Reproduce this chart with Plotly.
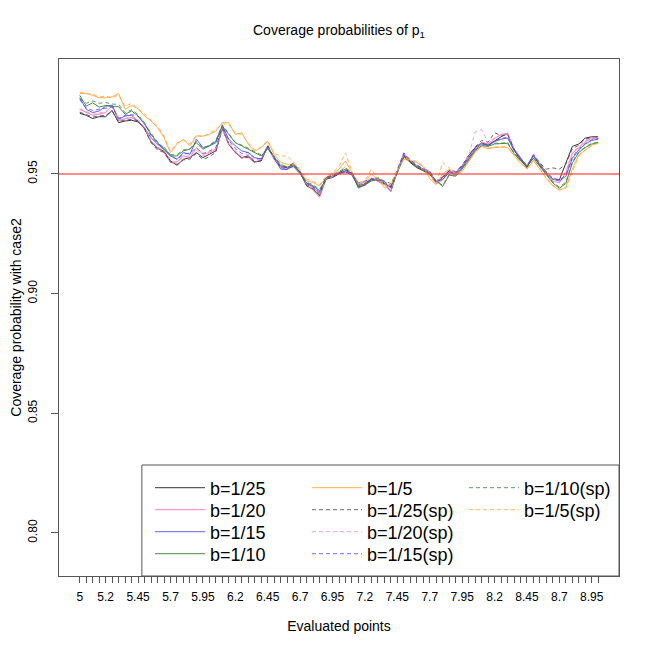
import plotly.graph_objects as go

# evaluated points 5.00, 5.05, ..., 9.00
x_points = [round(5 + 0.05 * k, 2) for k in range(81)]
x_labels = {0: "5", 4: "5.2", 9: "5.45", 14: "5.7", 19: "5.95", 24: "6.2", 29: "6.45",
            34: "6.7", 39: "6.95", 44: "7.2", 49: "7.45", 54: "7.7", 59: "7.95",
            64: "8.2", 69: "8.45", 74: "8.7", 79: "8.95"}
y_ticks = [0.80, 0.85, 0.90, 0.95]

b25 = [0.9753, 0.9745, 0.9731, 0.9739, 0.9739, 0.9765, 0.9714, 0.9721, 0.9724, 0.9717,
       0.9690, 0.9634, 0.9607, 0.9594, 0.9554, 0.9536, 0.9561, 0.9568, 0.9589, 0.9568,
       0.9582, 0.9596, 0.9693, 0.9623, 0.9589, 0.9568, 0.9575, 0.9550, 0.9554, 0.9617,
       0.9565, 0.9530, 0.9526, 0.9540, 0.9505, 0.9450, 0.9436, 0.9408, 0.9478, 0.9485,
       0.9500, 0.9513, 0.9500, 0.9450, 0.9457, 0.9478, 0.9471, 0.9457, 0.9446, 0.9506,
       0.9575, 0.9547, 0.9526, 0.9513, 0.9500, 0.9462, 0.9485, 0.9513, 0.9506, 0.9533,
       0.9575, 0.9610, 0.9630, 0.9620, 0.9638, 0.9655, 0.9668, 0.9600, 0.9560, 0.9526,
       0.9578, 0.9535, 0.9505, 0.9478, 0.9475, 0.9545, 0.9615, 0.9625, 0.9650, 0.9655,
       0.9655]
b20 = [0.9769, 0.9756, 0.9745, 0.9750, 0.9756, 0.9786, 0.9721, 0.9731, 0.9735, 0.9721,
       0.9686, 0.9637, 0.9610, 0.9589, 0.9547, 0.9550, 0.9575, 0.9568, 0.9610, 0.9582,
       0.9589, 0.9603, 0.9686, 0.9624, 0.9589, 0.9568, 0.9568, 0.9547, 0.9560, 0.9612,
       0.9560, 0.9528, 0.9522, 0.9538, 0.9508, 0.9455, 0.9432, 0.9402, 0.9480, 0.9488,
       0.9505, 0.9510, 0.9498, 0.9448, 0.9458, 0.9482, 0.9470, 0.9455, 0.9425, 0.9510,
       0.9580, 0.9552, 0.9530, 0.9515, 0.9505, 0.9458, 0.9475, 0.9510, 0.9505, 0.9530,
       0.9570, 0.9605, 0.9632, 0.9625, 0.9648, 0.9665, 0.9670, 0.9605, 0.9565, 0.9530,
       0.9580, 0.9538, 0.9500, 0.9470, 0.9462, 0.9505, 0.9585, 0.9610, 0.9635, 0.9648,
       0.9650]
b15 = [0.9818, 0.9770, 0.9756, 0.9763, 0.9783, 0.9787, 0.9728, 0.9742, 0.9745, 0.9721,
       0.9693, 0.9651, 0.9624, 0.9603, 0.9575, 0.9561, 0.9589, 0.9582, 0.9645, 0.9610,
       0.9617, 0.9630, 0.9700, 0.9645, 0.9617, 0.9596, 0.9589, 0.9568, 0.9562, 0.9610,
       0.9562, 0.9520, 0.9518, 0.9535, 0.9505, 0.9460, 0.9445, 0.9420, 0.9485, 0.9490,
       0.9500, 0.9508, 0.9495, 0.9445, 0.9452, 0.9475, 0.9478, 0.9462, 0.9428, 0.9512,
       0.9585, 0.9555, 0.9535, 0.9520, 0.9510, 0.9465, 0.9478, 0.9505, 0.9500, 0.9525,
       0.9565, 0.9600, 0.9625, 0.9618, 0.9635, 0.9645, 0.9650, 0.9598, 0.9562, 0.9532,
       0.9575, 0.9540, 0.9505, 0.9478, 0.9470, 0.9490, 0.9565, 0.9600, 0.9625, 0.9640,
       0.9645]
b10 = [0.9828, 0.9783, 0.9797, 0.9779, 0.9786, 0.9781, 0.9781, 0.9749, 0.9763, 0.9742,
       0.9707, 0.9665, 0.9630, 0.9603, 0.9575, 0.9575, 0.9596, 0.9603, 0.9630, 0.9603,
       0.9617, 0.9637, 0.9700, 0.9665, 0.9630, 0.9617, 0.9603, 0.9589, 0.9575, 0.9605,
       0.9570, 0.9535, 0.9525, 0.9530, 0.9500, 0.9462, 0.9450, 0.9430, 0.9478, 0.9492,
       0.9505, 0.9520, 0.9502, 0.9440, 0.9455, 0.9470, 0.9480, 0.9468, 0.9440, 0.9505,
       0.9570, 0.9550, 0.9530, 0.9515, 0.9498, 0.9470, 0.9448, 0.9495, 0.9490, 0.9520,
       0.9560, 0.9595, 0.9618, 0.9615, 0.9625, 0.9625, 0.9628, 0.9585, 0.9555, 0.9530,
       0.9565, 0.9530, 0.9495, 0.9462, 0.9440, 0.9460, 0.9545, 0.9590, 0.9610, 0.9625,
       0.9630]
b5 = [0.9836, 0.9836, 0.9828, 0.9818, 0.9818, 0.9822, 0.9836, 0.9770, 0.9786, 0.9772,
      0.9742, 0.9721, 0.9693, 0.9651, 0.9589, 0.9624, 0.9645, 0.9617, 0.9658, 0.9658,
      0.9665, 0.9679, 0.9714, 0.9714, 0.9665, 0.9672, 0.9624, 0.9595, 0.9610, 0.9636,
      0.9582, 0.9548, 0.9540, 0.9540, 0.9513, 0.9471, 0.9464, 0.9450, 0.9485, 0.9500,
      0.9520, 0.9554, 0.9505, 0.9460, 0.9465, 0.9500, 0.9475, 0.9443, 0.9455, 0.9505,
      0.9561, 0.9555, 0.9548, 0.9530, 0.9480, 0.9455, 0.9500, 0.9520, 0.9495, 0.9510,
      0.9550, 0.9590, 0.9615, 0.9605, 0.9610, 0.9612, 0.9610, 0.9575, 0.9545, 0.9520,
      0.9555, 0.9520, 0.9480, 0.9450, 0.9432, 0.9445, 0.9520, 0.9580, 0.9600, 0.9620,
      0.9630]

b25_sp = [0.9758, 0.9748, 0.9738, 0.9742, 0.9745, 0.9762, 0.9718, 0.9725, 0.9728, 0.9722,
          0.9688, 0.9630, 0.9600, 0.9590, 0.9550, 0.9540, 0.9558, 0.9562, 0.9585, 0.9560,
          0.9572, 0.9590, 0.9688, 0.9625, 0.9592, 0.9565, 0.9570, 0.9548, 0.9556, 0.9620,
          0.9568, 0.9528, 0.9530, 0.9545, 0.9510, 0.9455, 0.9440, 0.9415, 0.9482, 0.9490,
          0.9505, 0.9518, 0.9505, 0.9455, 0.9462, 0.9480, 0.9475, 0.9460, 0.9445, 0.9508,
          0.9578, 0.9552, 0.9530, 0.9518, 0.9505, 0.9468, 0.9488, 0.9515, 0.9510, 0.9536,
          0.9578, 0.9612, 0.9640, 0.9632, 0.9672, 0.9660, 0.9665, 0.9605, 0.9565, 0.9530,
          0.9582, 0.9545, 0.9520, 0.9525, 0.9520, 0.9540, 0.9605, 0.9620, 0.9645, 0.9652,
          0.9655]
b20_sp = [0.9772, 0.9760, 0.9748, 0.9755, 0.9760, 0.9780, 0.9725, 0.9732, 0.9738, 0.9728,
          0.9695, 0.9640, 0.9612, 0.9598, 0.9560, 0.9548, 0.9570, 0.9578, 0.9600, 0.9575,
          0.9588, 0.9605, 0.9692, 0.9630, 0.9595, 0.9575, 0.9582, 0.9555, 0.9562, 0.9615,
          0.9565, 0.9530, 0.9525, 0.9540, 0.9512, 0.9458, 0.9442, 0.9415, 0.9482, 0.9490,
          0.9510, 0.9530, 0.9500, 0.9458, 0.9465, 0.9485, 0.9472, 0.9462, 0.9430, 0.9512,
          0.9582, 0.9555, 0.9532, 0.9518, 0.9508, 0.9460, 0.9482, 0.9512, 0.9508, 0.9535,
          0.9575, 0.9675, 0.9685, 0.9630, 0.9650, 0.9662, 0.9665, 0.9608, 0.9568, 0.9535,
          0.9582, 0.9540, 0.9505, 0.9480, 0.9470, 0.9510, 0.9590, 0.9612, 0.9638, 0.9650,
          0.9652]
b15_sp = [0.9810, 0.9775, 0.9765, 0.9770, 0.9772, 0.9780, 0.9732, 0.9745, 0.9748, 0.9740,
          0.9715, 0.9660, 0.9625, 0.9612, 0.9580, 0.9560, 0.9582, 0.9588, 0.9608, 0.9585,
          0.9595, 0.9610, 0.9702, 0.9640, 0.9605, 0.9585, 0.9590, 0.9562, 0.9565, 0.9612,
          0.9565, 0.9525, 0.9522, 0.9538, 0.9508, 0.9462, 0.9448, 0.9425, 0.9488, 0.9492,
          0.9502, 0.9512, 0.9498, 0.9462, 0.9470, 0.9478, 0.9480, 0.9468, 0.9450, 0.9515,
          0.9588, 0.9558, 0.9538, 0.9522, 0.9512, 0.9468, 0.9480, 0.9508, 0.9502, 0.9528,
          0.9568, 0.9605, 0.9628, 0.9620, 0.9638, 0.9648, 0.9655, 0.9600, 0.9565, 0.9535,
          0.9578, 0.9542, 0.9508, 0.9482, 0.9475, 0.9495, 0.9570, 0.9605, 0.9628, 0.9642,
          0.9648]
b10_sp = [0.9815, 0.9795, 0.9805, 0.9795, 0.9798, 0.9792, 0.9790, 0.9755, 0.9768, 0.9748,
          0.9712, 0.9670, 0.9635, 0.9608, 0.9580, 0.9580, 0.9600, 0.9605, 0.9635, 0.9608,
          0.9620, 0.9640, 0.9705, 0.9668, 0.9632, 0.9620, 0.9608, 0.9592, 0.9580, 0.9608,
          0.9575, 0.9540, 0.9530, 0.9535, 0.9505, 0.9465, 0.9455, 0.9435, 0.9482, 0.9495,
          0.9510, 0.9525, 0.9505, 0.9445, 0.9460, 0.9475, 0.9485, 0.9470, 0.9460, 0.9508,
          0.9572, 0.9552, 0.9532, 0.9518, 0.9502, 0.9472, 0.9452, 0.9498, 0.9494, 0.9522,
          0.9562, 0.9598, 0.9620, 0.9618, 0.9628, 0.9628, 0.9632, 0.9588, 0.9558, 0.9532,
          0.9568, 0.9532, 0.9498, 0.9465, 0.9445, 0.9465, 0.9550, 0.9592, 0.9612, 0.9628,
          0.9632]
b5_sp = [0.9842, 0.9838, 0.9832, 0.9822, 0.9825, 0.9818, 0.9830, 0.9782, 0.9795, 0.9775,
         0.9748, 0.9725, 0.9700, 0.9658, 0.9595, 0.9630, 0.9640, 0.9625, 0.9662, 0.9655,
         0.9670, 0.9685, 0.9710, 0.9705, 0.9670, 0.9665, 0.9630, 0.9600, 0.9612, 0.9640,
         0.9585, 0.9575, 0.9575, 0.9550, 0.9518, 0.9478, 0.9470, 0.9455, 0.9490, 0.9505,
         0.9530, 0.9588, 0.9510, 0.9465, 0.9470, 0.9520, 0.9480, 0.9450, 0.9460, 0.9510,
         0.9565, 0.9560, 0.9552, 0.9535, 0.9490, 0.9460, 0.9548, 0.9525, 0.9500, 0.9515,
         0.9552, 0.9592, 0.9618, 0.9608, 0.9612, 0.9615, 0.9612, 0.9578, 0.9548, 0.9522,
         0.9558, 0.9522, 0.9482, 0.9452, 0.9435, 0.9440, 0.9510, 0.9575, 0.9598, 0.9618,
         0.9628]

# legend rows (each row is its own horizontal legend so the columns line up)
series = [
    ("b=1/25", b25, "rgb(20,20,20)", "solid", "legend"),
    ("b=1/20", b20, "rgb(255,105,180)", "solid", "legend2"),
    ("b=1/15", b15, "rgb(70,70,255)", "solid", "legend3"),
    ("b=1/10", b10, "rgb(40,120,40)", "solid", "legend4"),
    ("b=1/5", b5, "rgb(255,160,50)", "solid", "legend"),
    ("b=1/25(sp)", b25_sp, "rgb(80,80,80)", "4px,3px", "legend2"),
    ("b=1/20(sp)", b20_sp, "rgb(255,140,200)", "4px,3px", "legend3"),
    ("b=1/15(sp)", b15_sp, "rgb(80,80,255)", "4px,3px", "legend4"),
    ("b=1/10(sp)", b10_sp, "rgb(60,140,60)", "4px,3px", "legend"),
    ("b=1/5(sp)", b5_sp, "rgb(255,170,70)", "4px,3px", "legend2"),
]

FONT = "Liberation Sans, Arial, sans-serif"
# the page body adds an 8px offset, so the figure is 642px and margins are trimmed by 8
W, H = 642, 642
ML, MT, PW, PH = 51, 51, 560, 517

fig = go.Figure()
for name, vals, color, dash, leg in series:
    fig.add_trace(go.Scatter(x=x_points, y=vals, mode="lines", name=name,
                             line=dict(color=color, width=1, dash=dash),
                             opacity=0.85, legend=leg))

# reference level
fig.add_shape(type="line", xref="paper", x0=0, x1=1, yref="y", y0=0.95, y1=0.95,
              line=dict(color="rgba(255,60,60,0.6)", width=2), layer="above")

# legend frame
fig.add_shape(type="rect", xref="paper", yref="paper", x0=0.148, x1=1.0, y0=0, y1=0.2147,
              line=dict(color="#555", width=1), fillcolor="white", layer="below")


def row_legend(center_px):
    # center_px: y pixel of the row's centre in the page
    return dict(orientation="h", x=(150 - 59) / PW, xanchor="left",
                y=(576 - center_px) / PH, yanchor="middle",
                bgcolor="rgba(0,0,0,0)", font=dict(family=FONT, size=18, color="black"),
                itemwidth=50, entrywidth=92, entrywidthmode="pixels")


fig.update_layout(
    width=W, height=H,
    margin=dict(l=ML, r=W - ML - PW, t=MT, b=H - MT - PH, autoexpand=False),
    plot_bgcolor="white", paper_bgcolor="white",
    font=dict(family=FONT, size=12, color="black"),
    title=dict(text="Coverage probabilities of p<sub>1</sub>", x=(339 - 8) / W, xanchor="center",
               y=1 - 22 / H, yanchor="middle", font=dict(size=14)),
    xaxis=dict(range=[4.84, 9.16], tickmode="array", tickvals=x_points,
               ticktext=[x_labels.get(k, "") for k in range(len(x_points))],
               ticks="outside", ticklen=6, tickcolor="#555", showgrid=False, zeroline=False,
               showline=True, mirror=True, linecolor="#555", linewidth=1, automargin=False,
               ticklabelstandoff=4,
               title=dict(text="Evaluated points", standoff=17)),
    yaxis=dict(range=[0.782, 0.998], tickmode="array", tickvals=y_ticks,
               ticktext=["0.80", "0.85", "0.90", "0.95"], tickangle=-90,
               ticks="outside", ticklen=7, tickcolor="#555", showgrid=False, zeroline=False,
               showline=True, mirror=True, linecolor="#555", linewidth=1, automargin=False,
               ticklabelstandoff=9,
               title=dict(text="Coverage probability with case2", standoff=22)),
    legend=row_legend(488),
    legend2=row_legend(510),
    legend3=row_legend(532),
    legend4=row_legend(554),
)

fig.write_html("out.html")
